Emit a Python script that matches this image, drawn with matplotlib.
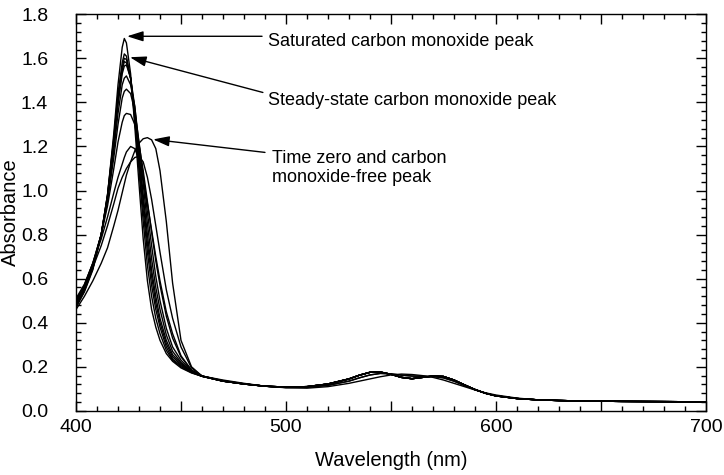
import matplotlib
matplotlib.use("Agg")
import matplotlib.pyplot as plt
from matplotlib.ticker import MultipleLocator, FuncFormatter

plt.rcParams['font.family'] = ['Liberation Sans', 'DejaVu Sans']

# wavelength grid (nm): Soret region and visible tail
wl_soret = [400, 404, 408, 412, 415, 418, 420, 422, 423, 424, 426, 428, 430,
            432, 434, 436, 438, 440, 443, 446, 450, 455, 460]
wl_tail = [470, 480, 490, 500, 510, 520, 530, 535, 540, 545, 550, 555, 560,
           565, 570, 575, 580, 585, 590, 595, 600, 610, 620, 630, 640, 660,
           680, 700]

# Soret band absorbance, one list per spectrum (saturated CO first, time zero last)
soret = {
    'sat':  [0.47, 0.54, 0.64, 0.80, 0.98, 1.26, 1.48, 1.65, 1.69, 1.67, 1.53, 1.29, 1.03,
             0.78, 0.59, 0.46, 0.38, 0.32, 0.26, 0.225, 0.195, 0.172, 0.157],
    'ss':   [0.47, 0.545, 0.645, 0.80, 0.98, 1.24, 1.44, 1.58, 1.62, 1.61, 1.51, 1.32, 1.09,
             0.86, 0.66, 0.52, 0.42, 0.35, 0.275, 0.23, 0.20, 0.174, 0.157],
    't9':   [0.48, 0.55, 0.65, 0.80, 0.98, 1.23, 1.42, 1.56, 1.60, 1.595, 1.51, 1.34, 1.12,
             0.91, 0.72, 0.57, 0.46, 0.38, 0.29, 0.235, 0.205, 0.175, 0.157],
    't8':   [0.48, 0.55, 0.65, 0.80, 0.97, 1.22, 1.41, 1.545, 1.585, 1.58, 1.51, 1.36, 1.15,
             0.95, 0.76, 0.61, 0.49, 0.40, 0.305, 0.245, 0.21, 0.177, 0.157],
    't7':   [0.49, 0.56, 0.66, 0.80, 0.97, 1.21, 1.39, 1.53, 1.565, 1.57, 1.51, 1.38, 1.18,
             0.98, 0.80, 0.64, 0.52, 0.42, 0.32, 0.255, 0.215, 0.178, 0.157],
    't6':   [0.49, 0.56, 0.66, 0.80, 0.96, 1.18, 1.35, 1.48, 1.51, 1.52, 1.48, 1.38, 1.21,
             1.03, 0.85, 0.69, 0.56, 0.46, 0.345, 0.27, 0.22, 0.18, 0.158],
    't5':   [0.50, 0.57, 0.67, 0.80, 0.95, 1.15, 1.30, 1.42, 1.45, 1.46, 1.44, 1.36, 1.22,
             1.07, 0.90, 0.75, 0.61, 0.50, 0.375, 0.29, 0.23, 0.182, 0.158],
    't4':   [0.50, 0.57, 0.67, 0.80, 0.93, 1.10, 1.22, 1.31, 1.34, 1.35, 1.345, 1.30, 1.21,
             1.09, 0.95, 0.81, 0.68, 0.57, 0.43, 0.33, 0.245, 0.185, 0.159],
    't3':   [0.51, 0.575, 0.67, 0.78, 0.88, 0.99, 1.06, 1.12, 1.15, 1.175, 1.20, 1.19, 1.14,
             1.05, 0.94, 0.82, 0.70, 0.59, 0.45, 0.35, 0.25, 0.185, 0.158],
    't2':   [0.50, 0.565, 0.65, 0.75, 0.84, 0.94, 1.01, 1.06, 1.08, 1.10, 1.13, 1.15, 1.155,
             1.13, 1.06, 0.96, 0.84, 0.72, 0.55, 0.42, 0.29, 0.195, 0.158],
    't0':   [0.46, 0.52, 0.59, 0.67, 0.74, 0.84, 0.91, 0.99, 1.03, 1.07, 1.13, 1.18, 1.215,
             1.235, 1.24, 1.23, 1.19, 1.09, 0.86, 0.58, 0.32, 0.20, 0.158],
}

# visible (Q band) absorbance, three kinds of tail
tail_co = [0.135, 0.122, 0.112, 0.108, 0.110, 0.122, 0.145, 0.162, 0.175, 0.176, 0.166,
           0.152, 0.146, 0.152, 0.158, 0.156, 0.140, 0.118, 0.097, 0.080, 0.068, 0.056,
           0.050, 0.047, 0.045, 0.043, 0.042, 0.041]
tail_mix = [0.137, 0.123, 0.112, 0.106, 0.107, 0.116, 0.135, 0.150, 0.163, 0.170, 0.168,
            0.162, 0.158, 0.157, 0.156, 0.150, 0.135, 0.115, 0.096, 0.080, 0.069, 0.056,
            0.050, 0.047, 0.045, 0.043, 0.042, 0.041]
tail_free = [0.140, 0.125, 0.112, 0.105, 0.103, 0.110, 0.125, 0.135, 0.145, 0.155, 0.163,
             0.167, 0.165, 0.160, 0.152, 0.140, 0.125, 0.110, 0.095, 0.082, 0.072, 0.058,
             0.050, 0.047, 0.045, 0.043, 0.042, 0.041]
tail_of = {'sat': tail_co, 'ss': tail_co, 't9': tail_co, 't8': tail_co, 't7': tail_co,
           't6': tail_co, 't5': tail_co, 't4': tail_co, 't3': tail_mix, 't2': tail_mix,
           't0': tail_free}

fig = plt.figure(figsize=(7.24, 4.75), dpi=100)
ax = fig.add_axes([0.105, 0.135, 0.87, 0.835])

wl = wl_soret + wl_tail
for key, vals in soret.items():
    ax.plot(wl, vals + tail_of[key], color='black', lw=1.0)

ax.set_xlim(400, 700)
ax.set_ylim(0, 1.8)
ax.xaxis.set_major_locator(MultipleLocator(50))
ax.xaxis.set_minor_locator(MultipleLocator(10))
ax.xaxis.set_major_formatter(FuncFormatter(lambda v, p: '%d' % v if v % 100 == 0 else ''))
ax.yaxis.set_major_locator(MultipleLocator(0.2))
ax.yaxis.set_minor_locator(MultipleLocator(0.04))
ax.yaxis.set_major_formatter(FuncFormatter(lambda v, p: '%.1f' % v))
ax.tick_params(which='both', direction='in', top=True, right=True, labelsize=14, width=1)
ax.tick_params(which='major', length=7)
ax.tick_params(which='minor', length=3.5)
ax.tick_params(axis='x', which='major', pad=6)
ax.tick_params(axis='y', which='major', pad=20)
for s in ax.spines.values():
    s.set_linewidth(1)

ax.set_xlabel('Wavelength (nm)', fontsize=14.5, labelpad=11)
ax.set_ylabel('Absorbance', fontsize=14.5, labelpad=1)

arrow = dict(arrowstyle='-|>,head_length=0.7,head_width=0.22', color='black', lw=1,
             mutation_scale=14, shrinkA=0, shrinkB=0)
ax.annotate('', xy=(424.3, 1.70), xytext=(488.6, 1.70), arrowprops=arrow)
ax.annotate('', xy=(425.7, 1.605), xytext=(489, 1.445), arrowprops=arrow)
ax.annotate('', xy=(436.7, 1.232), xytext=(490, 1.173), arrowprops=arrow)

ax.text(491.4, 1.677, 'Saturated carbon monoxide peak', fontsize=13, va='center', ha='left')
ax.text(491.4, 1.409, 'Steady-state carbon monoxide peak', fontsize=13, va='center', ha='left')
ax.text(493.3, 1.102, 'Time zero and carbon\nmonoxide-free peak', fontsize=13,
        va='center', ha='left', linespacing=1.2)

fig.savefig('out.png', dpi=100)
